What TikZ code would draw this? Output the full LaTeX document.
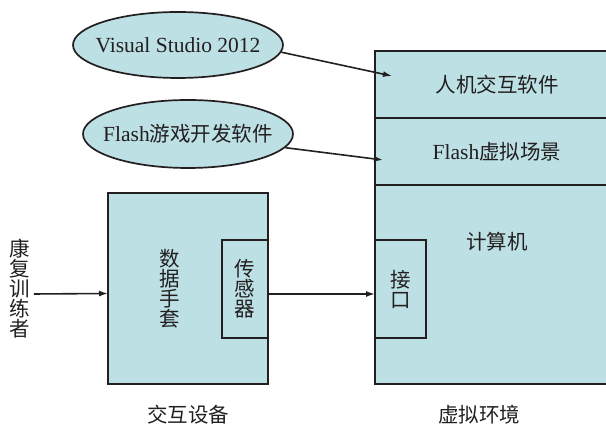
\documentclass[tikz,border=0pt]{standalone}
\usepackage{fontspec}
\setmainfont[Scale=1.05]{Liberation Serif}
\newfontfamily\cjk{Noto Sans CJK SC}
\usetikzlibrary{arrows.meta,positioning,shapes.geometric}

\definecolor{panel}{RGB}{188,224,228}
\definecolor{ink}{RGB}{35,31,32}

\begin{document}
\begin{tikzpicture}[
  x=1pt, y=1pt, >={Latex[length=9pt,width=6pt]},
  node distance=0pt,
  every node/.style={font=\fontsize{20.5}{20}\selectfont, text=ink},
  block/.style={draw=ink, fill=panel, line width=1.7pt, outer sep=0pt, inner sep=0pt},
  layer/.style={block, minimum width=244pt, minimum height=67pt},
  tool/.style={ellipse, draw=ink, fill=panel, line width=1.7pt, inner ysep=0pt,
               minimum width=210pt, minimum height=66pt},
  stack/.style={align=center, font=\fontsize{20.5}{20}\selectfont\cjk},
  title/.style={font=\fontsize{20.5}{24}\selectfont\cjk},
  link/.style={->, draw=ink, line width=1.6pt}
]
\useasboundingbox (0,0) rectangle (606,435);
\clip (0,0) rectangle (606,435);

% virtual environment column (runs past the right edge)
\node[layer] (hci) at (497,350.5) {{\cjk 人机交互软件}};
\node[layer, below=of hci] (flash) {Flash{\cjk 虚拟场景}};
\node[layer, below=of flash, minimum height=199pt] (pc) {};
\node[title] (pctxt) at (497,193) {计算机};
\node[block, minimum width=51pt, minimum height=98pt] (port) at (400.5,146) {};
\node[stack] (porttxt) at (port) {接\\口};

% interaction device
\node[block, minimum width=160pt, minimum height=191pt] (glove) at (188,146.5) {};
\node[stack] (glovetxt) at (170,146) {数\\据\\手\\套};
\node[block, minimum width=46pt, minimum height=98pt] (sensor) at (245,146) {};
\node[stack] (sensortxt) at (sensor) {传\\感\\器};

\node[stack] (trainee) at (20,146) {康\\复\\训\\练\\者};

% software tools (negative xsep keeps the ellipses tight round the text)
\node[tool, inner xsep=-10pt] (vs) at (178,390) {Visual Studio 2012};
\node[tool, inner xsep=-13pt, minimum height=68pt] (fl) at (188,301) {Flash{\cjk 游戏开发软件}};

% captions
\node[title] (devcap) at (188,20) {交互设备};
\node[title] (envcap) at (479,20) {虚拟环境};

\draw[link] ([yshift=-5pt]trainee.east) -- ([yshift=-5pt]glove.west);
\draw[link] ([yshift=-5pt]sensor.east) -- ([yshift=-5pt]port.west);
\draw[link] (vs.-4) -- ([shift={(17pt,8.5pt)}]hci.west);
\draw[link] (fl.-8) -- ([shift={(8pt,-8.5pt)}]flash.west);
\end{tikzpicture}
\end{document}
